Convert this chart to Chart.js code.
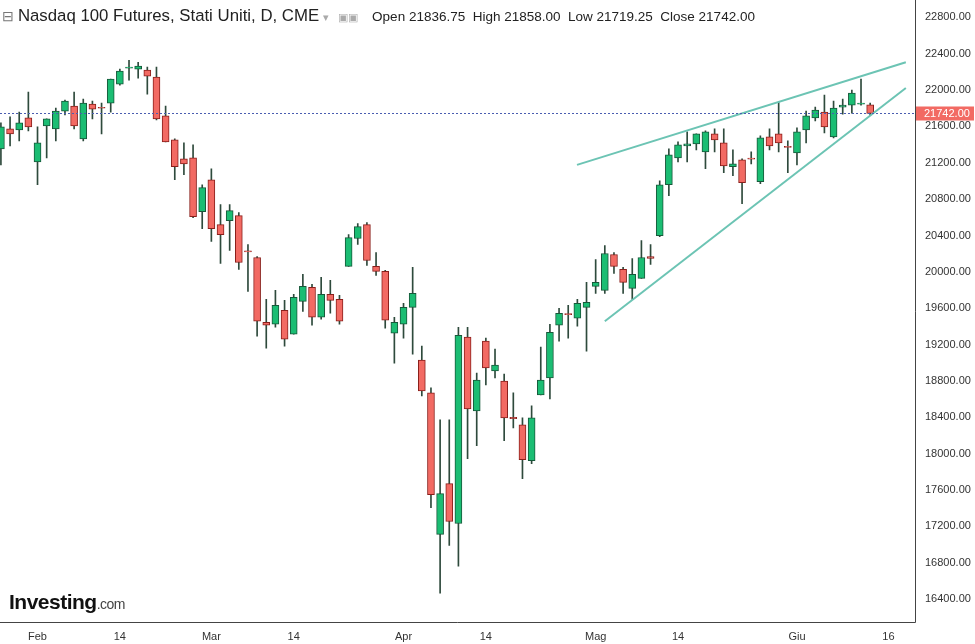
<!DOCTYPE html>
<html><head><meta charset="utf-8">
<script src="https://cdn.jsdelivr.net/npm/chart.js@4"></script>
<style>
html,body{margin:0;padding:0;background:#fff;width:975px;height:644px;overflow:hidden;font-family:"Liberation Sans",Arial,sans-serif}
#wrap{position:relative;width:975px;height:644px}
#hdr{position:absolute;left:2px;top:6px;font-size:14px;color:#222;white-space:nowrap}
#hdr .t{font-size:16.8px}
#hdr .ohlc{font-size:13.5px;margin-left:10px}
#logo{position:absolute;left:9px;top:590px;font-size:21px;font-weight:bold;color:#111;letter-spacing:-0.5px}
#logo span{font-size:14px;font-weight:normal;color:#444}
</style></head><body>
<div id="wrap"><canvas id="c" width="975" height="644"></canvas>
<div id="hdr"><span style="color:#777">&#8863;</span> <span class="t">Nasdaq 100 Futures, Stati Uniti, D, CME</span> <span style="color:#aaa;font-size:11px">&#9662; &nbsp;&nbsp;&#9635;&#9635;</span>
<span class="ohlc">Open 21836.75&nbsp; High 21858.00&nbsp; Low 21719.25&nbsp; Close 21742.00</span></div>
<div id="logo">Investing<span>.com</span></div>
</div>
<script>
const opens = [21353,21572,21561,21693,21210,21605,21572,21769,21824,21462,21846,21802,21857,22065,22241,22230,22219,22142,21715,21452,21243,21254,20662,21013,20520,20564,20619,20224,20158,19446,19424,19577,19314,19676,19830,19501,19753,19698,20060,20367,20520,20060,20005,19325,19424,19610,19029,18668,17112,17671,17232,19282,18470,19238,18909,18799,18400,18317,17923,18646,18832,19413,19534,19490,19610,19840,19797,20191,20027,19819,19928,20169,20399,20958,21254,21386,21408,21320,21517,21419,21156,21232,21243,20991,21484,21517,21375,21309,21561,21693,21758,21484,21813,21835,21846,21836.75];
const highs = [21638,21704,21758,21978,21594,21682,21802,21890,21978,21901,21879,21857,22120,22230,22328,22306,22252,22252,21824,21462,21419,21397,20958,21134,20739,20739,20652,20301,20169,19698,19797,19687,19753,19972,19862,19939,19906,19742,20410,20531,20542,20213,20016,19501,19654,20049,19183,18723,18372,18372,19391,19391,18887,19271,19150,18876,18668,18394,18525,19172,19424,19599,19632,19698,19884,20136,20290,20213,20049,20147,20345,20301,21002,21353,21430,21539,21517,21550,21572,21572,21342,21243,21320,21495,21572,21868,21441,21583,21769,21813,21945,21879,21901,22000,22120,21858];
const lows = [21177,21386,21441,21550,20958,21254,21441,21726,21572,21441,21682,21517,21758,22054,22109,22131,21956,21671,21430,21013,21068,20597,20476,20334,20093,20235,20027,19786,19293,19161,19391,19183,19314,19566,19413,19479,19545,19424,20060,20301,20071,19961,19380,18996,19271,19095,18635,17407,16465,16991,16761,17945,18087,18755,18832,18142,18284,17725,17890,18646,18602,19238,19271,19402,19128,19764,19764,19983,19764,19698,19928,20082,20388,20838,21210,21210,21342,21134,21320,21090,21057,20750,21188,20969,21342,21320,21090,21177,21419,21660,21528,21473,21736,21747,21835,21719.25];
const closes = [21594,21517,21638,21594,21419,21682,21769,21879,21605,21857,21791,21800,22120,22208,22245,22263,22153,21682,21430,21156,21188,20608,20926,20476,20410,20673,20103,20220,19457,19413,19632,19260,19720,19840,19501,19753,19687,19457,20377,20498,20125,20005,19468,19446,19610,19764,18690,17550,17561,17254,19303,18492,18810,18942,18975,18394,18385,17934,18394,18810,19336,19545,19530,19654,19665,19884,20202,20060,19884,19972,20158,20147,20958,21287,21397,21408,21517,21539,21452,21166,21188,20980,21240,21473,21386,21419,21370,21539,21715,21780,21594,21802,21835,21967,21850,21742];
const lastPrice = 21742;
const yTicks = [16400,16800,17200,17600,18000,18400,18800,19200,19600,20000,20400,20800,21200,21600,22000,22400,22800];
const xTickLabels = ['Feb','14','Mar','14','Apr','14','Mag','14','Giu','16'];
const xTickIndex = [4,13,23,32,44,53,65,74,87,97];
const upperTrend = [[62.96,21177],[98.9,22306]];
const lowerTrend = [[66.0,19457],[98.9,22022]];

const GREEN='#1bbd73', RED='#f26a63', GEDGE='#17583a', REDGE='#8a1f1b', WICK='#2e4a3c';
const up = closes.map((c,i)=>c>=opens[i]);
const bodies = opens.map((o,i)=>({x:i,y:[o,closes[i]]}));
const wicks = opens.map((o,i)=>({x:i,y:[lows[i],highs[i]]}));

const pricePlugin={id:'price',afterDatasetsDraw(ch){
  const {ctx,chartArea:a,scales:{y}}=ch;const py=y.getPixelForValue(lastPrice);
  ctx.save();ctx.setLineDash([2,2]);ctx.strokeStyle='#4a5db0';ctx.lineWidth=1;
  ctx.beginPath();ctx.moveTo(0,Math.round(py)+0.5);ctx.lineTo(a.right,Math.round(py)+0.5);ctx.stroke();
  ctx.setLineDash([]);ctx.fillStyle='#f26a63';ctx.fillRect(a.right+1,py-7,58,14);
  ctx.fillStyle='#fff';ctx.font='11px "Liberation Sans",Arial';ctx.textBaseline='middle';ctx.fillText(lastPrice.toFixed(2),a.right+9,py+0.5);
  ctx.strokeStyle='#444';ctx.beginPath();ctx.moveTo(a.right+0.5,0);ctx.lineTo(a.right+0.5,a.bottom+0.5);ctx.lineTo(0,a.bottom+0.5);ctx.stroke();
  ctx.restore();}};

new Chart(document.getElementById('c'),{
  type:'bar',
  data:{datasets:[
    {data:wicks,backgroundColor:WICK,borderWidth:0,barThickness:1,grouped:false,order:3},
    {data:bodies,backgroundColor:up.map(u=>u?GREEN:RED),borderColor:up.map(u=>u?GEDGE:REDGE),borderWidth:1,borderSkipped:false,barThickness:7,grouped:false,minBarLength:1,order:2},
    {type:'line',data:upperTrend.map(p=>({x:p[0],y:p[1]})),borderColor:'#6cc4b4',borderWidth:2,pointRadius:0,order:1},
    {type:'line',data:lowerTrend.map(p=>({x:p[0],y:p[1]})),borderColor:'#6cc4b4',borderWidth:2,pointRadius:0,order:1}
  ]},
  options:{responsive:false,animation:false,layout:{padding:0},
    plugins:{legend:{display:false},tooltip:{enabled:false}},
    scales:{
      x:{type:'linear',offset:false,min:-0.1,max:99.9,grid:{display:false},border:{display:false},
        afterBuildTicks(s){s.ticks=xTickIndex.map(v=>({value:v}));},
        afterFit(s){s.height=22;},
        ticks:{autoSkip:false,maxRotation:0,color:'#333',font:{size:11,family:'"Liberation Sans",Arial'},padding:0,
          callback:(v)=>{const k=xTickIndex.indexOf(v);return k>=0?xTickLabels[k]:'';}}},
      y:{position:'right',min:16148,max:22896,grid:{display:false},border:{display:false},
        afterBuildTicks(s){s.ticks=yTicks.map(v=>({value:v}));},
        afterFit(s){s.width=60;},
        ticks:{color:'#333',font:{size:11,family:'"Liberation Sans",Arial'},padding:2,callback:v=>v.toFixed(2)}}
    }},
  plugins:[pricePlugin]
});
</script></body></html>
